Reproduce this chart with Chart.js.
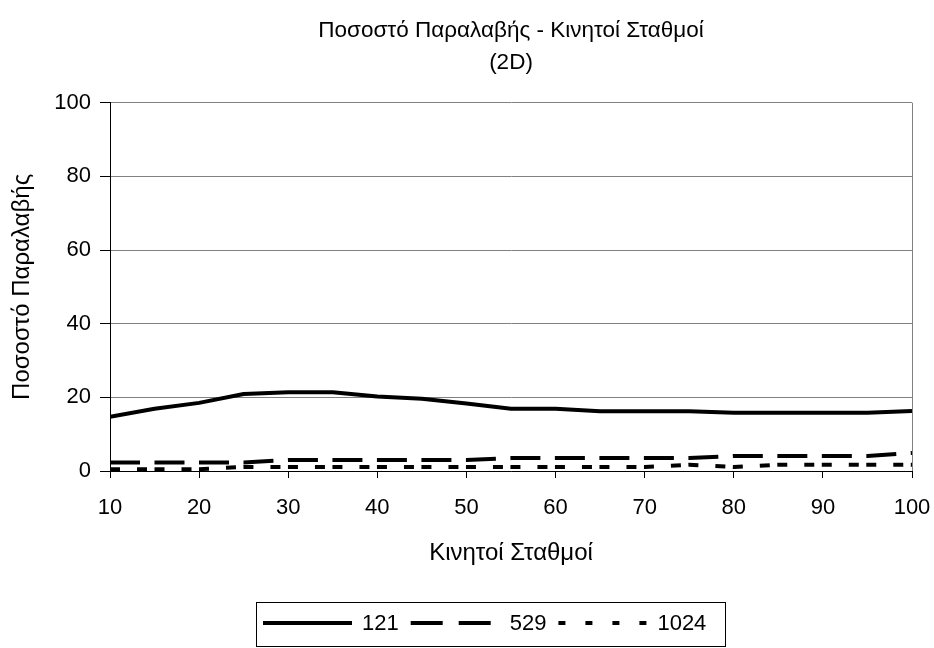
<!DOCTYPE html>
<html>
<head>
<meta charset="utf-8">
<script src="https://cdn.jsdelivr.net/npm/chart.js@4.4.1/dist/chart.umd.min.js"></script>
<style>
  body { margin: 0; background: #fff; }
  canvas { display: block; }
</style>
</head>
<body>
<canvas id="myChart" width="934" height="648"></canvas>
<script>
// mobile stations on the x axis, reception rate (%) per series
const stations = [10, 15, 20, 25, 30, 35, 40, 45, 50, 55, 60, 65, 70, 75, 80, 85, 90, 95, 100];
const rate121 = [14.7, 16.9, 18.5, 20.9, 21.4, 21.4, 20.2, 19.6, 18.3, 16.9, 16.9, 16.2, 16.2, 16.2, 15.8, 15.8, 15.8, 15.8, 16.3];
const rate529 = [2.3, 2.3, 2.3, 2.3, 3.0, 3.0, 3.0, 3.0, 3.0, 3.5, 3.5, 3.5, 3.5, 3.5, 4.1, 4.1, 4.1, 4.1, 4.9];
const rate1024 = [0.5, 0.5, 0.5, 1.1, 1.1, 1.1, 1.1, 1.1, 1.1, 1.1, 1.1, 1.1, 1.1, 1.7, 1.1, 1.7, 1.7, 1.7, 1.7];
const seriesNames = ["121", "529", "1024"];
const xTicks = [10, 20, 30, 40, 50, 60, 70, 80, 90, 100];
const yTicks = [0, 20, 40, 60, 80, 100];

const FONT = "'Liberation Sans', Arial, sans-serif";

function points(values) {
    return stations.map((x, i) => ({ x: x, y: values[i] }));
}

function series(label, values, dash, legendDash) {
    return {
        label: label,
        data: points(values),
        borderColor: "#000",
        borderWidth: 4,
        borderDash: dash,
        legendDash: legendDash,
        borderJoinStyle: "round",
        pointRadius: 0,
        tension: 0,
        fill: false,
    };
}

// boxed legend below the plot, line samples drawn from each dataset's style
const boxLegend = {
    id: "boxLegend",
    afterDraw(chart) {
        const ctx = chart.ctx;
        ctx.save();
        ctx.strokeStyle = "#000";
        ctx.lineWidth = 1;
        ctx.setLineDash([]);
        ctx.strokeRect(256.5, 602.5, 469, 44);

        const y = 623;
        let x = 263;
        ctx.font = "22px " + FONT;
        ctx.textBaseline = "middle";
        ctx.fillStyle = "#000";
        chart.data.datasets.forEach(ds => {
            ctx.beginPath();
            ctx.lineWidth = ds.borderWidth;
            ctx.setLineDash(ds.legendDash);
            ctx.moveTo(x, y);
            ctx.lineTo(x + 89, y);
            ctx.stroke();
            ctx.fillText(ds.label, x + 99, y + 1);
            x += 99 + ctx.measureText(ds.label).width + 12;
        });
        ctx.restore();
    }
};

new Chart(document.getElementById("myChart"), {
    type: "line",
    data: {
        datasets: [
            series(seriesNames[0], rate121, [], []),
            series(seriesNames[1], rate529, [30, 14.5], [32, 16]),
            series(seriesNames[2], rate1024, [10, 17, 10, 7.5], [7, 20]),
        ],
    },
    options: {
        responsive: false,
        animation: false,
        layout: { padding: { left: 0, right: 22, top: 0, bottom: 80.6 } },
        plugins: {
            legend: { display: false },
            tooltip: { enabled: false },
            title: {
                display: true,
                fullSize: false,
                text: ["Ποσοστό Παραλαβής - Κινητοί Σταθμοί", "(2D)"],
                color: "#000",
                font: { family: FONT, size: 22.5, weight: "normal", lineHeight: 32 / 22.5 },
                padding: { top: 15, bottom: 23.7 },
            },
        },
        scales: {
            x: {
                type: "linear",
                min: 10,
                max: 100,
                afterBuildTicks: s => { s.ticks = xTicks.map(v => ({ value: v })); },
                afterFit: s => {
                    s.height = 96.4;
                    s.paddingLeft = 0;
                    s.paddingRight = 0;
                },
                ticks: {
                    color: "#000",
                    font: { family: FONT, size: 22 },
                    padding: 17,
                    maxRotation: 0,
                    autoSkip: false,
                },
                grid: {
                    drawOnChartArea: true,
                    color: c => (c.tick && c.tick.value === 100 ? "#808080" : "rgba(0,0,0,0)"),
                    tickColor: "#000",
                    tickLength: 7,
                },
                border: { color: "#000", width: 1 },
                title: {
                    display: true,
                    text: "Κινητοί Σταθμοί",
                    color: "#000",
                    font: { family: FONT, size: 24 },
                    padding: { top: 0, bottom: 0 },
                },
            },
            y: {
                min: 0,
                max: 100,
                afterBuildTicks: s => { s.ticks = yTicks.map(v => ({ value: v })); },
                afterFit: s => {
                    s.width = 110;
                    s.paddingTop = 0;
                    s.paddingBottom = 0;
                },
                ticks: {
                    color: "#000",
                    font: { family: FONT, size: 22 },
                    padding: 9,
                },
                grid: {
                    color: "#808080",
                    tickColor: "#000",
                    tickLength: 10,
                },
                border: { color: "#000", width: 1 },
                title: {
                    display: true,
                    text: "Ποσοστό Παραλαβής",
                    color: "#000",
                    font: { family: FONT, size: 24 },
                    padding: { top: 7.6, bottom: 0 },
                },
            },
        },
    },
    plugins: [boxLegend],
});
</script>
</body>
</html>
